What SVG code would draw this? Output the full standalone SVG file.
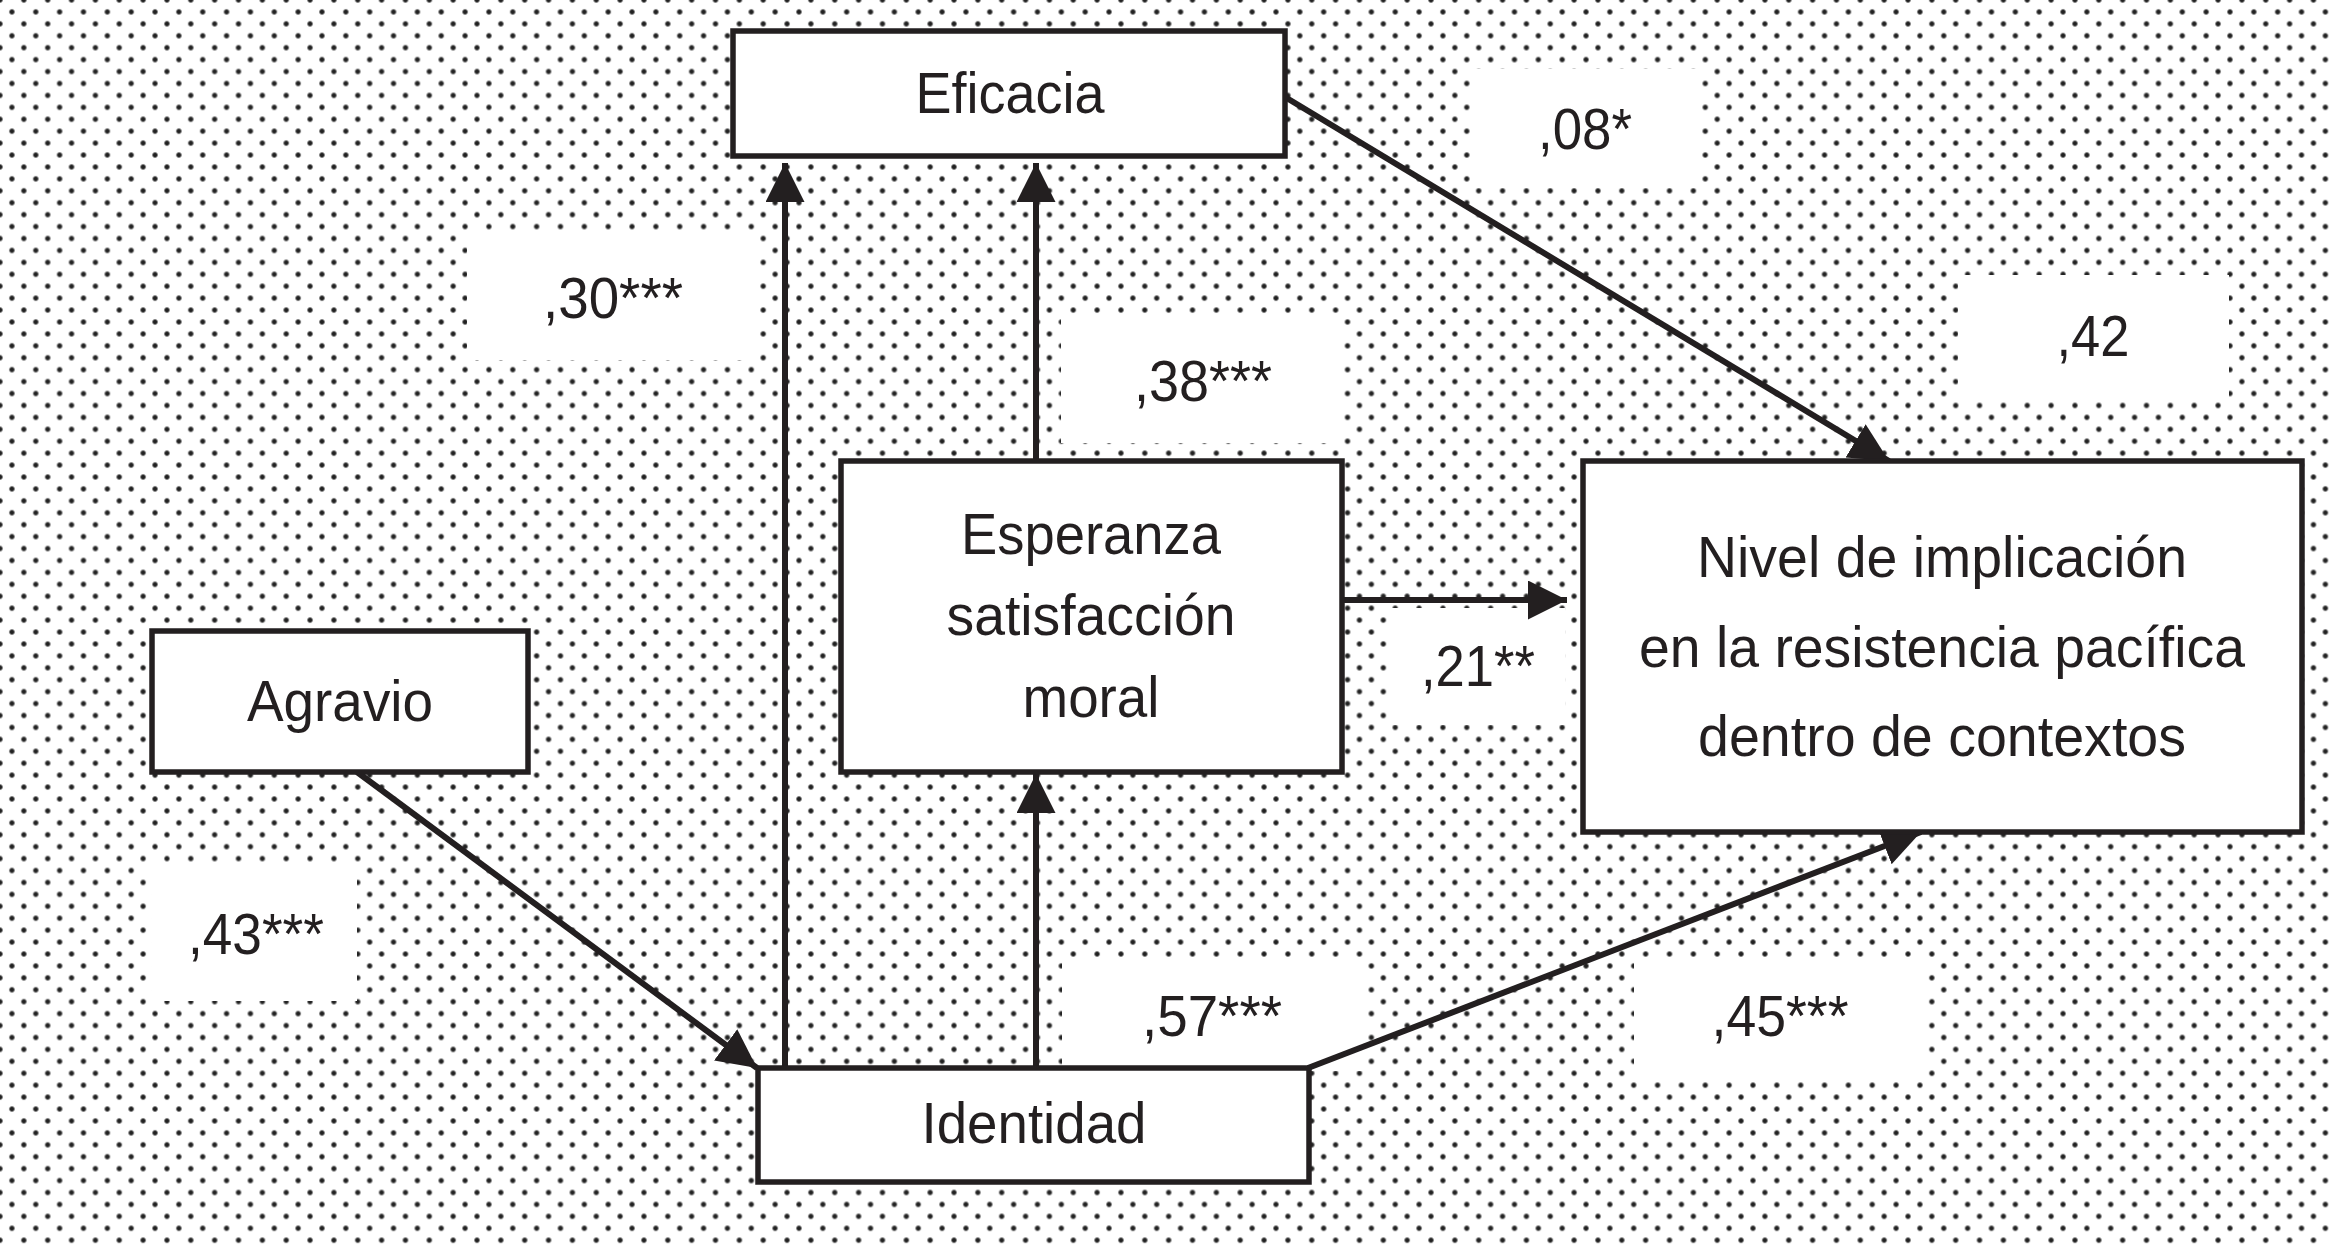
<svg xmlns="http://www.w3.org/2000/svg" width="2333" height="1246" viewBox="0 0 2333 1246">
  <defs>
    <radialGradient id="dotg">
      <stop offset="0" stop-color="#1a1a1a"/>
      <stop offset="0.45" stop-color="#2a2a2a"/>
      <stop offset="0.75" stop-color="#9a9a9a"/>
      <stop offset="1" stop-color="#ffffff" stop-opacity="0"/>
    </radialGradient>
    <pattern id="dots" patternUnits="userSpaceOnUse" x="0" y="0" width="23.85" height="23.85">
      <rect width="23.85" height="23.85" fill="#ffffff"/>
      <circle cx="0" cy="0" r="3.6" fill="url(#dotg)"/>
      <circle cx="23.85" cy="0" r="3.6" fill="url(#dotg)"/>
      <circle cx="0" cy="23.85" r="3.6" fill="url(#dotg)"/>
      <circle cx="23.85" cy="23.85" r="3.6" fill="url(#dotg)"/>
      <circle cx="11.925" cy="11.925" r="3.6" fill="url(#dotg)"/>
    </pattern>
    <marker id="arrow" markerUnits="userSpaceOnUse" markerWidth="42" markerHeight="42" refX="39" refY="19.5" orient="auto" viewBox="0 0 42 42">
      <path d="M0,0 L39,19.5 L0,39 Z" fill="#231f20"/>
    </marker>
    <style>
      .box { fill: #ffffff; stroke: #231f20; stroke-width: 5.5; }
      .lbl { fill: #ffffff; }
      .edge { stroke: #231f20; stroke-width: 6; fill: none; marker-end: url(#arrow); }
      text { font-family: "Liberation Sans", Arial, Helvetica, sans-serif; font-size: 57px; fill: #231f20; text-anchor: middle; }
    </style>
  </defs>

  <rect x="0" y="0" width="2333" height="1246" fill="url(#dots)"/>

  <g id="labels">
    <g id="lbl-08"><rect class="lbl" x="1470" y="69" width="231" height="119"/><text x="1585" y="149" textLength="94" lengthAdjust="spacingAndGlyphs">,08*</text></g>
    <g id="lbl-30"><rect class="lbl" x="467" y="235" width="292" height="125"/><text x="613" y="318" textLength="140" lengthAdjust="spacingAndGlyphs">,30***</text></g>
    <g id="lbl-42"><rect class="lbl" x="1958" y="275" width="271" height="124"/><text x="2093" y="356" textLength="73" lengthAdjust="spacingAndGlyphs">,42</text></g>
    <g id="lbl-38"><rect class="lbl" x="1061" y="318" width="281" height="125"/><text x="1203" y="401" textLength="138" lengthAdjust="spacingAndGlyphs">,38***</text></g>
    <g id="lbl-21"><rect class="lbl" x="1390" y="608" width="175" height="117"/><text x="1478" y="686" textLength="114" lengthAdjust="spacingAndGlyphs">,21**</text></g>
    <g id="lbl-43"><rect class="lbl" x="152" y="867" width="205" height="134"/><text x="256" y="954" textLength="136" lengthAdjust="spacingAndGlyphs">,43***</text></g>
    <g id="lbl-57"><rect class="lbl" x="1062" y="960" width="303" height="111"/><text x="1212" y="1036" textLength="140" lengthAdjust="spacingAndGlyphs">,57***</text></g>
    <g id="lbl-45"><rect class="lbl" x="1634" y="958" width="291" height="122"/><text x="1780" y="1036" textLength="137" lengthAdjust="spacingAndGlyphs">,45***</text></g>
  </g>

  <g id="connectors">
    <line class="edge" x1="785" y1="1068" x2="785" y2="163"/>
    <line class="edge" x1="1036" y1="461" x2="1036" y2="163"/>
    <line class="edge" x1="1036" y1="1068" x2="1036" y2="774"/>
    <line class="edge" x1="1342" y1="600" x2="1567" y2="600"/>
    <line class="edge" x1="1285" y1="97" x2="1889" y2="461"/>
    <line class="edge" x1="357" y1="772" x2="757" y2="1068"/>
    <line class="edge" x1="1308" y1="1068" x2="1921" y2="832"/>
  </g>

  <g id="eficacia">
    <rect class="box" x="733" y="31" width="552" height="125"/>
    <text x="1010" y="113" textLength="189" lengthAdjust="spacingAndGlyphs">Eficacia</text>
  </g>
  <g id="agravio">
    <rect class="box" x="152" y="631" width="376" height="141"/>
    <text x="340" y="721" textLength="186" lengthAdjust="spacingAndGlyphs">Agravio</text>
  </g>
  <g id="esperanza">
    <rect class="box" x="841" y="461" width="501" height="311"/>
    <text x="1091" y="554" textLength="260" lengthAdjust="spacingAndGlyphs">Esperanza</text>
    <text x="1091" y="635" textLength="289" lengthAdjust="spacingAndGlyphs">satisfacción</text>
    <text x="1091" y="717" textLength="137" lengthAdjust="spacingAndGlyphs">moral</text>
  </g>
  <g id="nivel">
    <rect class="box" x="1583" y="461" width="719" height="371"/>
    <text x="1942" y="577" textLength="490" lengthAdjust="spacingAndGlyphs">Nivel de implicación</text>
    <text x="1942" y="667" textLength="606" lengthAdjust="spacingAndGlyphs">en la resistencia pacífica</text>
    <text x="1942" y="756" textLength="488" lengthAdjust="spacingAndGlyphs">dentro de contextos</text>
  </g>
  <g id="identidad">
    <rect class="box" x="758" y="1068" width="551" height="114"/>
    <text x="1034" y="1143" textLength="225" lengthAdjust="spacingAndGlyphs">Identidad</text>
  </g>
</svg>
